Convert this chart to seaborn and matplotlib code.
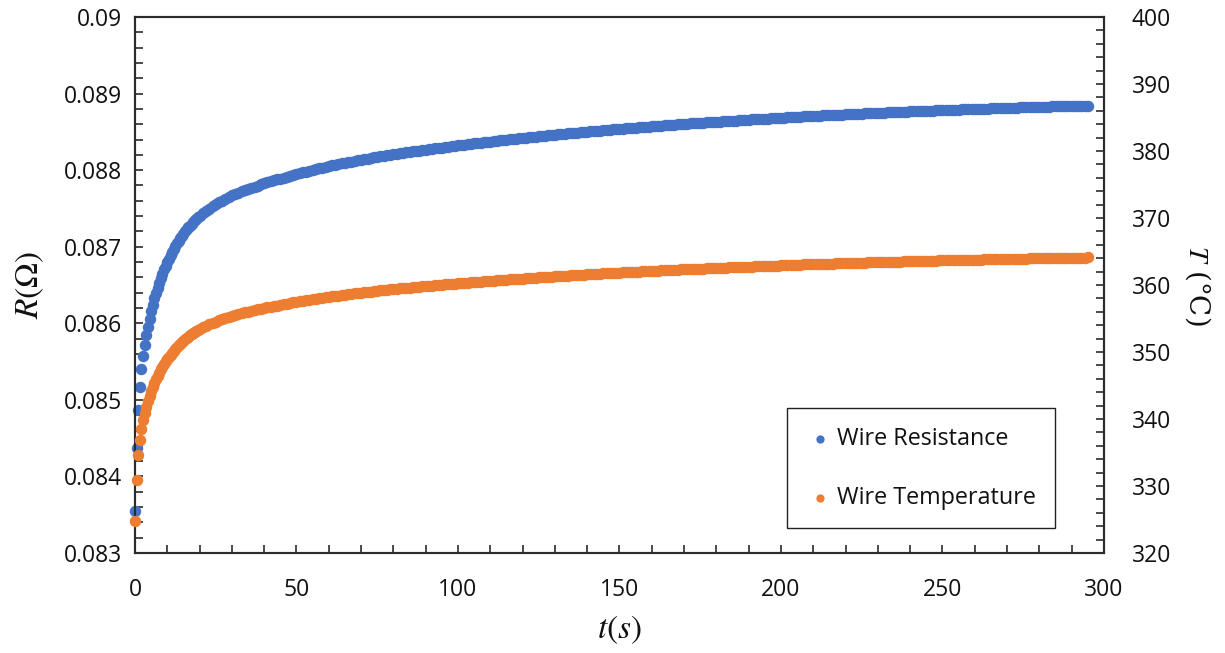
import numpy as np
import pandas as pd
import matplotlib
matplotlib.use("Agg")
import matplotlib.pyplot as plt
import seaborn as sns
from matplotlib.ticker import MultipleLocator, FuncFormatter

# Sample times: 2 Hz during the first 20 s, then 1 Hz
time_s = np.concatenate([np.arange(0, 20.5, 0.5), np.arange(21, 296, 1)])

# Wire resistance (ohm)
resistance_ohm = [
    0.083549, 0.084367, 0.084868, 0.085172, 0.085403, 0.085577, 0.085717, 0.085847, 0.085955, 0.086060,
    0.086154, 0.086242, 0.086324, 0.086398, 0.086467, 0.086531, 0.086592, 0.086649, 0.086703, 0.086753,
    0.086800, 0.086846, 0.086889, 0.086931, 0.086970, 0.087008, 0.087045, 0.087079, 0.087111, 0.087143,
    0.087171, 0.087199, 0.087226, 0.087251, 0.087276, 0.087299, 0.087322, 0.087343, 0.087363, 0.087383,
    0.087403,
    0.087437, 0.087468, 0.087499, 0.087527, 0.087553, 0.087579, 0.087603, 0.087626, 0.087648, 0.087669,
    0.087687, 0.087706, 0.087722, 0.087738, 0.087754, 0.087770, 0.087784, 0.087798, 0.087813, 0.087826,
    0.087839, 0.087852, 0.087865, 0.087878, 0.087890, 0.087903, 0.087914, 0.087926, 0.087938, 0.087950,
    0.087961, 0.087972, 0.087982, 0.087993, 0.088003, 0.088014, 0.088023, 0.088033, 0.088042, 0.088052,
    0.088061, 0.088070, 0.088078, 0.088087, 0.088095, 0.088103, 0.088112, 0.088120, 0.088127, 0.088135,
    0.088143, 0.088151, 0.088157, 0.088165, 0.088172, 0.088180, 0.088186, 0.088193, 0.088199, 0.088206,
    0.088212, 0.088219, 0.088225, 0.088231, 0.088237, 0.088244, 0.088249, 0.088255, 0.088261, 0.088267,
    0.088272, 0.088278, 0.088284, 0.088289, 0.088295, 0.088300, 0.088305, 0.088312, 0.088317, 0.088322,
    0.088327, 0.088332, 0.088338, 0.088343, 0.088348, 0.088352, 0.088357, 0.088362, 0.088368, 0.088373,
    0.088378, 0.088382, 0.088387, 0.088391, 0.088396, 0.088402, 0.088406, 0.088411, 0.088415, 0.088420,
    0.088424, 0.088429, 0.088433, 0.088437, 0.088442, 0.088446, 0.088450, 0.088454, 0.088459, 0.088463,
    0.088467, 0.088471, 0.088475, 0.088479, 0.088483, 0.088487, 0.088490, 0.088494, 0.088498, 0.088502,
    0.088506, 0.088510, 0.088513, 0.088517, 0.088520, 0.088524, 0.088528, 0.088531, 0.088535, 0.088539,
    0.088543, 0.088545, 0.088549, 0.088552, 0.088556, 0.088560, 0.088562, 0.088566, 0.088569, 0.088573,
    0.088575, 0.088579, 0.088582, 0.088586, 0.088588, 0.088591, 0.088595, 0.088598, 0.088601, 0.088604,
    0.088607, 0.088609, 0.088613, 0.088616, 0.088618, 0.088621, 0.088624, 0.088628, 0.088630, 0.088633,
    0.088635, 0.088638, 0.088641, 0.088643, 0.088646, 0.088648, 0.088651, 0.088654, 0.088656, 0.088659,
    0.088662, 0.088664, 0.088667, 0.088669, 0.088671, 0.088673, 0.088676, 0.088678, 0.088681, 0.088684,
    0.088686, 0.088689, 0.088690, 0.088693, 0.088695, 0.088698, 0.088701, 0.088702, 0.088705, 0.088707,
    0.088710, 0.088711, 0.088714, 0.088715, 0.088718, 0.088720, 0.088722, 0.088724, 0.088726, 0.088728,
    0.088731, 0.088732, 0.088735, 0.088736, 0.088739, 0.088740, 0.088742, 0.088744, 0.088746, 0.088748,
    0.088749, 0.088752, 0.088753, 0.088756, 0.088757, 0.088758, 0.088761, 0.088762, 0.088765, 0.088766,
    0.088767, 0.088770, 0.088771, 0.088773, 0.088775, 0.088776, 0.088778, 0.088779, 0.088782, 0.088783,
    0.088784, 0.088786, 0.088788, 0.088790, 0.088791, 0.088792, 0.088793, 0.088796, 0.088797, 0.088799,
    0.088800, 0.088801, 0.088803, 0.088804, 0.088806, 0.088808, 0.088809, 0.088810, 0.088812, 0.088813,
    0.088814, 0.088816, 0.088817, 0.088818, 0.088820, 0.088821, 0.088822, 0.088823, 0.088825, 0.088826,
    0.088827, 0.088829, 0.088830, 0.088831, 0.088832, 0.088833, 0.088834, 0.088835, 0.088837, 0.088838,
    0.088839, 0.088840, 0.088841, 0.088842, 0.088843,
]

# Wire temperature (deg C)
temperature_c = [
    324.78, 330.87, 334.58, 336.84, 338.56, 339.85, 340.89, 341.86, 342.66, 343.44,
    344.14, 344.79, 345.40, 345.95, 346.47, 346.94, 347.39, 347.82, 348.21, 348.59,
    348.94, 349.28, 349.60, 349.91, 350.20, 350.48, 350.75, 351.01, 351.25, 351.48,
    351.70, 351.90, 352.10, 352.29, 352.47, 352.65, 352.81, 352.97, 353.12, 353.27,
    353.41,
    353.66, 353.90, 354.13, 354.33, 354.53, 354.72, 354.90, 355.07, 355.24, 355.39,
    355.53, 355.66, 355.79, 355.91, 356.02, 356.14, 356.25, 356.35, 356.46, 356.56,
    356.65, 356.75, 356.85, 356.94, 357.03, 357.13, 357.22, 357.30, 357.39, 357.48,
    357.56, 357.64, 357.72, 357.80, 357.87, 357.95, 358.02, 358.10, 358.17, 358.23,
    358.30, 358.37, 358.43, 358.50, 358.55, 358.61, 358.68, 358.74, 358.80, 358.86,
    358.91, 358.97, 359.02, 359.08, 359.13, 359.18, 359.23, 359.28, 359.33, 359.38,
    359.43, 359.48, 359.52, 359.56, 359.61, 359.66, 359.70, 359.75, 359.79, 359.83,
    359.87, 359.91, 359.96, 360.00, 360.04, 360.08, 360.12, 360.16, 360.20, 360.24,
    360.28, 360.32, 360.36, 360.40, 360.44, 360.47, 360.50, 360.54, 360.58, 360.62,
    360.66, 360.69, 360.73, 360.76, 360.80, 360.83, 360.86, 360.90, 360.93, 360.97,
    361.00, 361.04, 361.07, 361.10, 361.13, 361.16, 361.19, 361.22, 361.26, 361.29,
    361.32, 361.35, 361.38, 361.41, 361.43, 361.46, 361.49, 361.52, 361.55, 361.58,
    361.61, 361.64, 361.66, 361.69, 361.72, 361.75, 361.77, 361.79, 361.82, 361.85,
    361.88, 361.90, 361.93, 361.95, 361.98, 362.01, 362.03, 362.06, 362.08, 362.10,
    362.12, 362.15, 362.17, 362.20, 362.22, 362.24, 362.27, 362.29, 362.32, 362.34,
    362.36, 362.38, 362.41, 362.42, 362.44, 362.46, 362.48, 362.51, 362.53, 362.55,
    362.57, 362.59, 362.61, 362.63, 362.65, 362.67, 362.69, 362.71, 362.73, 362.74,
    362.76, 362.78, 362.80, 362.82, 362.83, 362.85, 362.87, 362.89, 362.91, 362.93,
    362.95, 362.97, 362.98, 363.00, 363.02, 363.04, 363.06, 363.06, 363.08, 363.10,
    363.12, 363.13, 363.15, 363.16, 363.18, 363.20, 363.21, 363.23, 363.24, 363.26,
    363.28, 363.29, 363.31, 363.32, 363.34, 363.35, 363.37, 363.38, 363.39, 363.40,
    363.41, 363.43, 363.44, 363.46, 363.47, 363.48, 363.50, 363.51, 363.53, 363.54,
    363.55, 363.57, 363.58, 363.59, 363.61, 363.62, 363.63, 363.64, 363.66, 363.67,
    363.68, 363.69, 363.70, 363.71, 363.72, 363.73, 363.74, 363.76, 363.77, 363.78,
    363.79, 363.80, 363.81, 363.82, 363.84, 363.85, 363.86, 363.87, 363.88, 363.89,
    363.90, 363.91, 363.92, 363.93, 363.94, 363.95, 363.96, 363.97, 363.98, 363.99,
    364.00, 364.01, 364.02, 364.02, 364.03, 364.03, 364.04, 364.05, 364.06, 364.07,
    364.08, 364.09, 364.10, 364.10, 364.11,
]

series_labels = ["Wire Resistance", "Wire Temperature"]
series_colors = ["#4472C4", "#ED7D31"]

sns.set_theme(style="ticks")
plt.rcParams["font.family"] = ["Open Sans", "DejaVu Sans"]
plt.rcParams["mathtext.fontset"] = "stix"

df = pd.DataFrame({"t": time_s, "R": resistance_ohm, "T": temperature_c})

fig = plt.figure(figsize=(12.25, 6.53), dpi=100)
ax = fig.add_axes([0.1102, 0.1531, 0.791, 0.8209])
ax2 = ax.twinx()

marker_area = 68
sns.scatterplot(data=df, x="t", y="R", ax=ax, color=series_colors[0], s=marker_area,
                linewidth=0, clip_on=False, legend=False, zorder=3)
sns.scatterplot(data=df, x="t", y="T", ax=ax2, color=series_colors[1], s=marker_area,
                linewidth=0, clip_on=False, legend=False, zorder=3)

ax.set_xlim(0, 300)
ax.set_ylim(0.083, 0.09)
ax2.set_ylim(320, 400)

ax.xaxis.set_major_locator(MultipleLocator(50))
ax.xaxis.set_minor_locator(MultipleLocator(10))
ax.yaxis.set_major_locator(MultipleLocator(0.001))
ax.yaxis.set_minor_locator(MultipleLocator(0.0002))
ax2.yaxis.set_major_locator(MultipleLocator(10))
ax2.yaxis.set_minor_locator(MultipleLocator(2))
ax.yaxis.set_major_formatter(FuncFormatter(lambda v, p: f"{v:.3f}".rstrip("0")))
ax2.yaxis.set_major_formatter(FuncFormatter(lambda v, p: f"{v:.0f}"))

frame_color = "#2b2b2b"
for a in (ax, ax2):
    for sp in a.spines.values():
        sp.set_color(frame_color)
        sp.set_linewidth(1.5)
        sp.set_visible(True)

tick_kw = dict(direction="in", length=5.5, width=1.2, color=frame_color,
               labelsize=16.5, labelcolor="#111111")
ax.tick_params(axis="x", which="both", bottom=True, top=False, pad=18, **tick_kw)
ax.tick_params(axis="y", which="both", left=True, right=False, pad=9, **tick_kw)
ax2.tick_params(axis="y", which="both", left=False, right=True, pad=20, **tick_kw)

ax.set_xlabel(r"$t(s)$", fontsize=24, color="#111111")
ax.set_ylabel(r"$R(\Omega)$", fontsize=24, color="#111111")
ax2.set_ylabel(r"$T$ (°C)", fontsize=20, color="#111111", rotation=270,
               family=["DejaVu Serif"])
ax.xaxis.set_label_coords(0.5, -0.112)
ax.yaxis.set_label_coords(-0.092, 0.5)
ax2.yaxis.set_label_coords(1.112, 0.5)

handles = [ax.collections[0], ax2.collections[0]]
leg = ax2.legend(handles, series_labels, loc="upper left",
                 bbox_to_anchor=(0.6729, 0.2705), borderaxespad=0,
                 frameon=True, fancybox=False, framealpha=1, edgecolor="#222222",
                 fontsize=16.8, handlelength=1.25, handletextpad=0.1,
                 labelspacing=1.5, borderpad=0.8, markerscale=0.72)
leg.get_frame().set_linewidth(1.0)
for txt in leg.get_texts():
    txt.set_color("#111111")

fig.savefig("out.png", dpi=100, facecolor="white")
